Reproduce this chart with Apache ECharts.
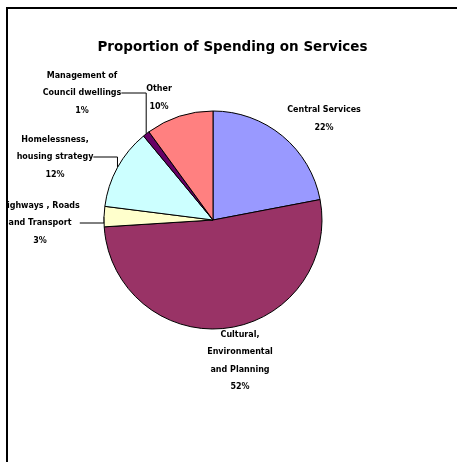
<!DOCTYPE html>
<html>
<head>
<meta charset="utf-8">
<script src="https://cdn.jsdelivr.net/npm/echarts@6/dist/echarts.min.js"></script>
<style>
html,body{margin:0;padding:0;background:#fff;width:457px;height:462px;overflow:hidden;}
#frame{position:absolute;left:6px;top:7px;width:451px;height:455px;border-left:2px solid #000;border-top:2px solid #000;box-sizing:border-box;overflow:hidden;}
#chart{width:449px;height:453px;}
</style>
</head>
<body>
<div id="frame"><div id="chart"></div></div>
<script>
const titleText = 'Proportion of Spending on Services';
const categories = [
  'Central Services',
  'Cultural,\nEnvironmental\nand Planning',
  'Highways , Roads\nand Transport',
  'Homelessness,\nhousing strategy',
  'Management of\nCouncil dwellings',
  'Other'
];
const values = [22, 52, 3, 12, 1, 10];
const colors = ['#9999FF', '#993366', '#FFFFCC', '#CCFFFF', '#660066', '#FF8080'];

// label anchor positions (chart-internal pixels) and whether a leader line is drawn
const labelPos = [
  [316, 110], [232, 352], [32, 214], [47, 148], [74, 84], [151, 89]
];
const showLine = [false, false, true, true, true, false];

const chart = echarts.init(document.getElementById('chart'), null, {renderer: 'canvas'});
chart.setOption({
  animation: false,
  backgroundColor: '#fff',
  title: {
    text: titleText,
    left: 'center',
    top: 26,
    textStyle: {fontFamily: 'DejaVu Sans', fontWeight: 'bold', fontSize: 13.5, color: '#000'}
  },
  series: [{
    type: 'pie',
    center: [205, 211],
    radius: 109,
    startAngle: 90,
    clockwise: true,
    avoidLabelOverlap: false,
    data: categories.map((c, i) => ({
      name: c,
      value: values[i],
      itemStyle: {color: colors[i]},
      labelLine: {show: showLine[i]}
    })),
    itemStyle: {borderColor: '#000', borderWidth: 1},
    label: {
      show: true,
      formatter: '{b}\n{c}%',
      fontFamily: 'DejaVu Sans',
      fontWeight: 'bold',
      fontSize: 8,
      lineHeight: 17.5,
      color: '#000',
      align: 'center'
    },
    labelLine: {
      lineStyle: {color: '#000', width: 1}
    },
    labelLayout: function (p) {
      const pos = labelPos[p.dataIndex];
      return {x: pos[0], y: pos[1], align: 'center', verticalAlign: 'middle'};
    },
    emphasis: {disabled: true}
  }]
});
</script>
</body>
</html>
